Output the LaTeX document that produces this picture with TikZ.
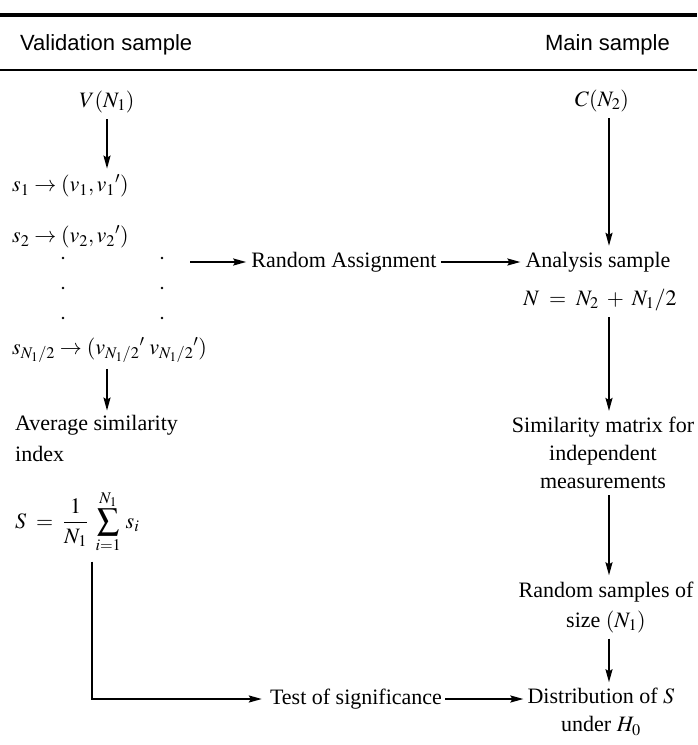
\documentclass[tikz,border=0pt]{standalone}
\usepackage{mathptmx}
\usepackage{fontspec}
\setmainfont{Liberation Serif}
\setsansfont{Liberation Sans}
\usetikzlibrary{arrows.meta}
\begin{document}
\begin{tikzpicture}[x=1pt,y=-1pt,
  every node/.style={inner sep=0pt, font=\fontsize{22}{28}\selectfont},
  head/.style={font=\sffamily\fontsize{22}{26}\selectfont},
  arr/.style={line width=1.8pt, -{Stealth[length=13pt,width=7pt,inset=2pt]}},
  ln/.style={line width=1.8pt},
  dotmark/.style={circle, fill=black, minimum size=2.6pt, inner sep=0pt}]
\useasboundingbox (0,0) rectangle (697,745);
% rules
\draw[line width=3.4pt] (0,15) -- (697,15);
\draw[line width=1.5pt] (0,70) -- (697,70);
\node[head, anchor=west] (hv) at (20,45) {Validation sample};
\node[head, anchor=east] (hm) at (670,45) {Main sample};
% x positions of vertical connectors
\coordinate (lx) at (107,0);
\coordinate (rx) at (609,0);
\coordinate (sx) at (92,0);
% left column
\node (V) at (107,102) {$V(N_1)$};
\node[anchor=west] (s1) at (12,186) {$s_1 \rightarrow (v_1, v_1{}')$};
\node[anchor=west] (s2) at (12,237) {$s_2 \rightarrow (v_2, v_2{}')$};
\node[dotmark] (d1a) at (63,258) {};
\node[dotmark] (d1b) at (162,258) {};
\node[dotmark] (d2a) at (63,288) {};
\node[dotmark] (d2b) at (162,288) {};
\node[dotmark] (d3a) at (63,318) {};
\node[dotmark] (d3b) at (162,318) {};
\node[anchor=west] (sN) at (12,350) {$s_{N_1/2} \rightarrow (v_{N_1/2}{}'\; v_{N_1/2}{}')$};
\node[anchor=west, align=left, font=\fontsize{22}{31}\selectfont] (avg) at (15,438) {Average similarity\\index};
\node[anchor=west] (S) at (15,522) {$\displaystyle S \;=\; \frac{1}{N_1}\;\sum_{i=1}^{N_1}\, s_i$};
% middle
\coordinate (ra0) at (190,262);
\node (RA) at (344,262) {Random Assignment};
\node (T) at (356,699) {Test of significance};
% right column
\node (C) at (602,101) {$C(N_2)$};
\node (AS) at (598,262) {Analysis sample};
\node (N) at (600,300) {$N \;=\; N_2 \;+\; N_1/2$};
\node[align=center] (sim) at (603,453) {Similarity matrix for\\independent\\measurements};
\node[align=center, font=\fontsize{22}{30}\selectfont] (rs) at (606,607) {Random samples of\\size $(N_1)$};
\node[align=center] (dist) at (601,712) {Distribution of $S$\\under $H_0$};
% connectors
\draw[arr, shorten <=6pt, shorten >=6pt] (V.south) -- (V.south |- s1.north);
\draw[arr, shorten <=6pt, shorten >=4pt] (sN.south -| lx) -- (avg.north -| lx);
\draw[arr, shorten >=5pt] (ra0) -- (RA.west);
\draw[arr, shorten <=4pt, shorten >=5pt] (RA.east) -- (AS.west);
\draw[arr, shorten <=6pt, shorten >=6pt] (C.south -| rx) -- (AS.north -| rx);
\draw[arr, shorten <=6pt, shorten >=6pt] (N.south -| rx) -- (sim.north -| rx);
\draw[arr, shorten <=6pt, shorten >=6pt] (sim.south -| rx) -- (rs.north -| rx);
\draw[arr, shorten <=6pt, shorten >=6pt] (rs.south -| rx) -- (dist.north -| rx);
\draw[arr, shorten <=8pt, shorten >=8pt] (S.south -| sx) |- (T.west);
\draw[arr, shorten <=3pt, shorten >=4pt] (T.east) -- (T.east -| dist.west);
\end{tikzpicture}
\end{document}
